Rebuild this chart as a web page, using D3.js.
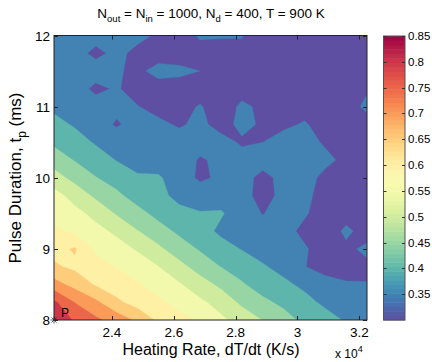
<!DOCTYPE html>
<html>
<head>
<meta charset="utf-8">
<script src="https://cdn.jsdelivr.net/npm/d3@7"></script>
<style>
  body { margin: 0; background: #fff; }
  text { font-family: "Liberation Sans", Arial, sans-serif; fill: #000; }
</style>
</head>
<body>
<div id="field"></div>
<script>
'use strict';

// grid columns: heating rate (x 10^4 K/s)
const heatRate = [2.2125, 2.28, 2.3475, 2.415, 2.4825, 2.55, 2.6175, 2.685,
                  2.7525, 2.82, 2.8875, 2.955, 3.0225, 3.09, 3.1575, 3.225];
// grid rows: pulse duration (ms), top row first
const pulseDur = [12, 11.75, 11.5, 11.25, 11, 10.75, 10.5, 10.25, 10,
                  9.75, 9.5, 9.25, 9, 8.75, 8.5, 8.25, 8];
// measured value, one row per pulse duration (top -> bottom)
const grid = [
  [0.37, 0.37, 0.365, 0.365, 0.36, 0.345, 0.33, 0.355, 0.352, 0.352, 0.33, 0.32, 0.33, 0.33, 0.33, 0.34],
  [0.37, 0.365, 0.34, 0.36, 0.34, 0.33, 0.33, 0.335, 0.34, 0.34, 0.33, 0.32, 0.33, 0.33, 0.33, 0.34],
  [0.375, 0.37, 0.37, 0.355, 0.34, 0.365, 0.36, 0.35, 0.32, 0.33, 0.33, 0.32, 0.33, 0.32, 0.33, 0.34],
  [0.38, 0.37, 0.34, 0.355, 0.33, 0.33, 0.33, 0.32, 0.33, 0.33, 0.32, 0.33, 0.32, 0.33, 0.34, 0.345],
  [0.39, 0.38, 0.37, 0.365, 0.352, 0.335, 0.33, 0.355, 0.32, 0.36, 0.34, 0.32, 0.33, 0.32, 0.33, 0.36],
  [0.415, 0.395, 0.38, 0.343, 0.375, 0.36, 0.345, 0.36, 0.335, 0.36, 0.345, 0.34, 0.355, 0.33, 0.32, 0.33],
  [0.44, 0.42, 0.395, 0.385, 0.37, 0.375, 0.37, 0.37, 0.365, 0.345, 0.35, 0.37, 0.365, 0.345, 0.33, 0.32],
  [0.478, 0.447, 0.425, 0.398, 0.385, 0.38, 0.375, 0.345, 0.36, 0.365, 0.37, 0.375, 0.37, 0.36, 0.34, 0.33],
  [0.52, 0.485, 0.452, 0.43, 0.405, 0.405, 0.38, 0.34, 0.36, 0.37, 0.335, 0.365, 0.365, 0.34, 0.32, 0.33],
  [0.57, 0.53, 0.49, 0.46, 0.43, 0.41, 0.39, 0.385, 0.375, 0.37, 0.33, 0.365, 0.36, 0.335, 0.32, 0.32],
  [0.58, 0.565, 0.535, 0.495, 0.465, 0.435, 0.41, 0.402, 0.405, 0.375, 0.348, 0.37, 0.355, 0.33, 0.33, 0.33],
  [0.61, 0.59, 0.565, 0.54, 0.502, 0.47, 0.44, 0.42, 0.39, 0.375, 0.37, 0.365, 0.34, 0.32, 0.36, 0.33],
  [0.635, 0.655, 0.59, 0.57, 0.545, 0.51, 0.475, 0.445, 0.42, 0.398, 0.38, 0.37, 0.355, 0.33, 0.34, 0.36],
  [0.657, 0.64, 0.62, 0.598, 0.575, 0.551, 0.515, 0.48, 0.449, 0.43, 0.405, 0.385, 0.352, 0.33, 0.33, 0.34],
  [0.72, 0.683, 0.645, 0.625, 0.605, 0.58, 0.555, 0.52, 0.49, 0.455, 0.43, 0.41, 0.39, 0.37, 0.355, 0.352],
  [0.81, 0.748, 0.71, 0.66, 0.63, 0.61, 0.58, 0.56, 0.53, 0.49, 0.46, 0.44, 0.415, 0.39, 0.37, 0.355],
  [0.86, 0.79, 0.76, 0.73, 0.69, 0.64, 0.62, 0.59, 0.56, 0.53, 0.499, 0.467, 0.44, 0.42, 0.395, 0.38]
];
const levels = [0.30, 0.35, 0.40, 0.45, 0.50, 0.55, 0.60, 0.65, 0.70, 0.75, 0.80, 0.85];
const xTicks = [2.4, 2.6, 2.8, 3, 3.2];
const yTicks = [8, 9, 10, 11, 12];
const cbTicks = [0.35, 0.4, 0.45, 0.5, 0.55, 0.6, 0.65, 0.7, 0.75, 0.8, 0.85];
const cbRange = [0.30, 0.85];

const w = 432, h = 362;
const L = 54, R = 367, T = 35.5, B = 320;

const svg = d3.select('#field').append('svg').attr('width', w).attr('height', h);

const xScale = d3.scaleLinear().domain([heatRate[0], heatRate[heatRate.length - 1]]).range([L, R]);
const yScale = d3.scaleLinear().domain([d3.min(pulseDur), d3.max(pulseDur)]).range([B, T]);
const cmap = t => d3.interpolateSpectral(1 - t);
const cnorm = d3.scaleLinear().domain(cbRange).range([0, 1]).clamp(true);

// contour grid (d3 wants bottom row first here, y index going up)
const nx = heatRate.length, ny = pulseDur.length;
const values = grid.slice().reverse().flat();
const ix = d3.scaleLinear().domain([0.5, nx - 0.5]).range([heatRate[0], heatRate[nx - 1]]);
const iy = d3.scaleLinear().domain([0.5, ny - 0.5]).range([pulseDur[ny - 1], pulseDur[0]]);
const proj = d3.geoTransform({
  point: function(x, y) { this.stream.point(xScale(ix(x)), yScale(iy(y))); }
});
const path = d3.geoPath(proj);
const bands = d3.contours().size([nx, ny]).thresholds(levels.slice(1))(values);

svg.append('clipPath').attr('id', 'clip')
  .append('rect').attr('x', L).attr('y', T).attr('width', R - L).attr('height', B - T);

const plot = svg.append('g').attr('clip-path', 'url(#clip)');
plot.append('rect')
  .attr('x', L).attr('y', T).attr('width', R - L).attr('height', B - T)
  .attr('fill', cmap(cnorm(levels[0])));
plot.selectAll('path.band').data(bands).enter().append('path')
  .attr('class', 'band')
  .attr('d', path)
  .attr('fill', d => cmap(cnorm(d.value)))
  .attr('stroke', d => cmap(cnorm(d.value)))
  .attr('stroke-width', 0.3);

// box + inward ticks on all four sides
const ax = svg.append('g').attr('stroke', '#222').attr('stroke-width', 1).attr('fill', 'none');
ax.append('rect').attr('x', L).attr('y', T).attr('width', R - L).attr('height', B - T);
xTicks.forEach(v => {
  const x = Math.round(xScale(v)) + 0.5;
  ax.append('line').attr('x1', x).attr('x2', x).attr('y1', B).attr('y2', B - 4);
  ax.append('line').attr('x1', x).attr('x2', x).attr('y1', T).attr('y2', T + 4);
});
yTicks.forEach(v => {
  const y = Math.round(yScale(v)) + 0.5;
  ax.append('line').attr('x1', L).attr('x2', L + 4).attr('y1', y).attr('y2', y);
  ax.append('line').attr('x1', R).attr('x2', R - 4).attr('y1', y).attr('y2', y);
});

svg.selectAll('text.xt').data(xTicks).enter().append('text')
  .attr('x', d => xScale(d)).attr('y', 337)
  .attr('text-anchor', 'middle').attr('font-size', '13.5px')
  .text(d => d);
svg.selectAll('text.yt').data(yTicks).enter().append('text')
  .attr('x', 50).attr('y', d => yScale(d) + 5)
  .attr('text-anchor', 'end').attr('font-size', '13.5px')
  .text(d => d);

// start point marker and label
svg.append('path')
  .attr('d', 'M50.5,320H57.5M54,316.5V323.5M51.5,317.5L56.5,322.5M51.5,322.5L56.5,317.5')
  .attr('stroke', '#333').attr('stroke-width', 0.8).attr('fill', 'none');
svg.append('text').attr('x', 61).attr('y', 317).attr('font-size', '12px').text('P');

// title
const title = svg.append('text').attr('x', 211).attr('y', 18)
  .attr('text-anchor', 'middle').attr('font-size', '13.5px');
title.append('tspan').text('N');
title.append('tspan').attr('dy', 4).attr('font-size', '9.5px').text('out');
title.append('tspan').attr('dy', -4).text(' = N');
title.append('tspan').attr('dy', 4).attr('font-size', '9.5px').text('in');
title.append('tspan').attr('dy', -4).text(' = 1000, N');
title.append('tspan').attr('dy', 4).attr('font-size', '9.5px').text('d');
title.append('tspan').attr('dy', -4).text(' = 400, T = 900 K');

// axis labels
svg.append('text').attr('x', 211).attr('y', 355)
  .attr('text-anchor', 'middle').attr('font-size', '16px')
  .text('Heating Rate, dT/dt (K/s)');
const yl = svg.append('text').attr('transform', 'translate(21,178) rotate(-90)')
  .attr('text-anchor', 'middle').attr('font-size', '17px');
yl.append('tspan').text('Pulse Duration, t');
yl.append('tspan').attr('dy', 5).attr('font-size', '12px').text('p');
yl.append('tspan').attr('dy', -5).text(' (ms)');
const ex = svg.append('text').attr('x', 335).attr('y', 358).attr('font-size', '12px');
ex.append('tspan').text('x 10');
ex.append('tspan').attr('dy', -6).attr('font-size', '9px').text('4');

// colorbar
const cbX = 383.5, cbW = 21.5;
const cbScale = d3.scaleLinear().domain(cbRange).range([B, 36]);
const nSteps = 64;
const steps = d3.range(nSteps);
const cb = svg.append('g');
cb.selectAll('rect').data(steps).enter().append('rect')
  .attr('x', cbX)
  .attr('y', d => cbScale(cbRange[0] + (d + 1) * (cbRange[1] - cbRange[0]) / nSteps))
  .attr('width', cbW)
  .attr('height', (B - 36) / nSteps + 0.5)
  .attr('fill', d => cmap((d + 0.5) / nSteps));
cb.append('rect').attr('x', cbX).attr('y', 36).attr('width', cbW).attr('height', B - 36)
  .attr('fill', 'none').attr('stroke', '#555').attr('stroke-width', 1);
cbTicks.forEach(v => {
  const y = Math.round(cbScale(v)) + 0.5;
  cb.append('line').attr('x1', cbX).attr('x2', cbX + 3).attr('y1', y).attr('y2', y)
    .attr('stroke', '#333');
  cb.append('line').attr('x1', cbX + cbW).attr('x2', cbX + cbW - 3).attr('y1', y).attr('y2', y)
    .attr('stroke', '#333');
});
svg.selectAll('text.cbt').data(cbTicks).enter().append('text')
  .attr('x', 408).attr('y', d => cbScale(d) + 4)
  .attr('font-size', '11.5px')
  .text(d => String(+d.toFixed(2)));
</script>
</body>
</html>
